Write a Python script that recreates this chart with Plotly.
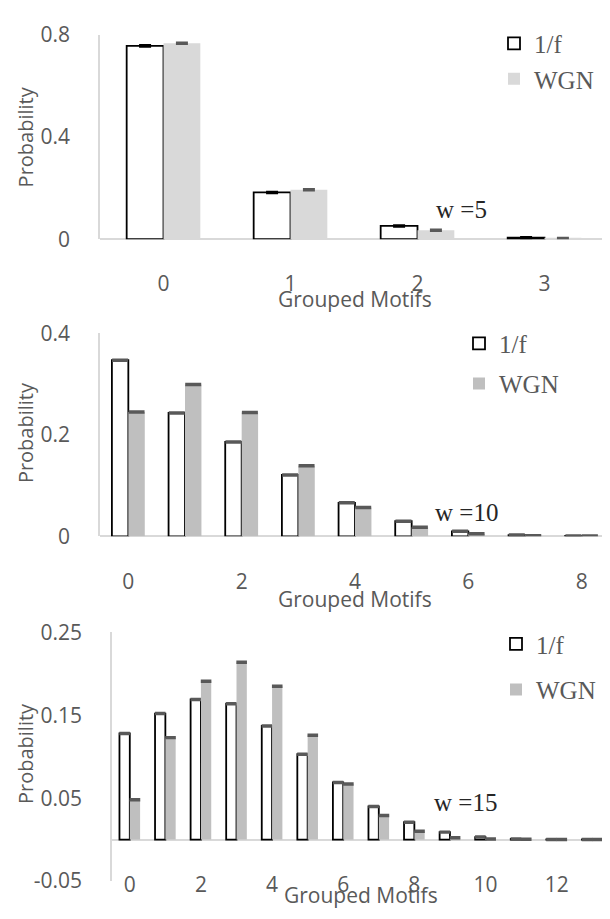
import plotly.graph_objects as go

W, H = 610, 919
OFF = 8  # the page body margin shifts the figure by 8 px

# ---------------- data ----------------
motifs_w5 = [0, 1, 2, 3]
pink_w5 = [0.756, 0.183, 0.052, 0.006]
wgn_w5 = [0.766, 0.193, 0.035, 0.003]
pink_w5_err = [0.002, 0.002, 0.002, 0.002]
wgn_w5_err = [0.002, 0.002, 0.002, 0.002]

motifs_w10 = [0, 1, 2, 3, 4, 5, 6, 7, 8]
pink_w10 = [0.347, 0.243, 0.186, 0.121, 0.066, 0.030, 0.010, 0.0025, 0.0008]
wgn_w10 = [0.245, 0.299, 0.244, 0.139, 0.057, 0.018, 0.005, 0.0013, 0.0005]
pink_w10_err = [0.001, 0.001, 0.001, 0.001, 0.001, 0.001, 0.001, 0.001, 0.001]
wgn_w10_err = [0.001, 0.001, 0.001, 0.001, 0.001, 0.001, 0.001, 0.001, 0.001]

motifs_w15 = [0, 1, 2, 3, 4, 5, 6, 7, 8, 9, 10, 11, 12, 13]
pink_w15 = [0.128, 0.152, 0.169, 0.164, 0.137, 0.103, 0.069, 0.040, 0.021,
            0.009, 0.003, 0.0008, 0.0002, 0.0001]
wgn_w15 = [0.048, 0.123, 0.191, 0.214, 0.185, 0.126, 0.067, 0.029, 0.010,
           0.0023, 0.0008, 0.0003, 0.0001, 0.0001]
pink_w15_err = [0.0006, 0.0006, 0.0006, 0.0006, 0.0006, 0.0006, 0.0006,
                0.0006, 0.0006, 0.0006, 0.0006, 0.0006, 0.0006, 0.0006]
wgn_w15_err = [0.0006, 0.0006, 0.0006, 0.0006, 0.0006, 0.0006, 0.0006,
               0.0006, 0.0006, 0.0006, 0.0006, 0.0006, 0.0006, 0.0006]

yticks_w5 = [0, 0.4, 0.8]
yticklabels_w5 = ["0", "0.4", "0.8"]
yticks_w10 = [0, 0.2, 0.4]
yticklabels_w10 = ["0", "0.2", "0.4"]
yticks_w15 = [-0.05, 0.05, 0.15, 0.25]
yticklabels_w15 = ["-0.05", "0.05", "0.15", "0.25"]

series_names = ["1/f", "WGN"]
window_labels = ["w =5", "w =10", "w =15"]
x_title = "Grouped Motifs"
y_title = "Probability"

# ---------------- style ----------------
AX_COLOR = "#595959"
LINE_COLOR = "#d9d9d9"
SANS = "Open Sans"
SERIF = "Liberation Serif"


def px(x):
    return (x - OFF) / W


def py(y):
    return 1 - (y - OFF) / H


panels = [
    dict(cats=motifs_w5, pink=pink_w5, wgn=wgn_w5, perr=pink_w5_err, werr=wgn_w5_err,
         wgn_color="#d9d9d9", pink_cap="#000000", wgn_cap="#595959",
         cap_w=6, xd=(100, 608), yd=(20, 231), yr=[0, 0.8],
         yt=yticks_w5, ytl=yticklabels_w5,
         xt=[0, 1, 2, 3], xlab_y=272.5, xtitle=(355, 293), ytitle=(25, 126),
         leg=(494, 5.5), leg_gap=0, note=(461, 200)),
    dict(cats=motifs_w10, pink=pink_w10, wgn=wgn_w10, perr=pink_w10_err, werr=wgn_w10_err,
         wgn_color="#bfbfbf", pink_cap="#595959", wgn_cap="#595959",
         cap_w=8, xd=(100, 610), yd=(328, 537.5), yr=[0, 0.4],
         yt=yticks_w10, ytl=yticklabels_w10,
         xt=[0, 2, 4, 6, 8], xlab_y=580.5, xtitle=(355, 602), ytitle=(25, 431),
         leg=(459, 315), leg_gap=4.5, note=(466, 513)),
    dict(cats=motifs_w15, pink=pink_w15, wgn=wgn_w15, perr=pink_w15_err, werr=wgn_w15_err,
         wgn_color="#bfbfbf", pink_cap="#595959", wgn_cap="#595959",
         cap_w=5.3, xd=(112, 610), yd=(636.5, 893), yr=[-0.05, 0.25],
         yt=yticks_w15, ytl=yticklabels_w15,
         xt=[0, 2, 4, 6, 8, 10, 12], xlab_y=893, xtitle=(361, 907), ytitle=(25, 762),
         leg=(496, 625), leg_gap=10, note=(465, 812)),
]

fig = go.Figure()
layout = dict(
    width=W, height=H,
    margin=dict(l=0, r=0, t=0, b=0),
    paper_bgcolor="white", plot_bgcolor="white",
    barmode="group", bargap=0.42, bargroupgap=0,
    showlegend=True,
)
annotations = []

for i, p in enumerate(panels):
    k = "" if i == 0 else str(i + 1)
    xa, ya = "x" + k, "y" + k
    lg = "legend" + k
    fig.add_trace(go.Bar(
        x=p["cats"], y=p["pink"], name=series_names[0], xaxis=xa, yaxis=ya,
        legend=lg, legendgroup="pink" + k,
        marker=dict(color="white", line=dict(color="black", width=1.8)),
        error_y=dict(type="data", array=p["perr"], color=p["pink_cap"],
                     thickness=2.5, width=p["cap_w"]),
    ))
    fig.add_trace(go.Bar(
        x=p["cats"], y=p["wgn"], name=series_names[1], xaxis=xa, yaxis=ya,
        legend=lg, legendgroup="wgn" + k,
        marker=dict(color=p["wgn_color"], line=dict(width=0)),
        error_y=dict(type="data", array=p["werr"], color=p["wgn_cap"],
                     thickness=2.5, width=p["cap_w"]),
    ))
    n = len(p["cats"])
    layout["xaxis" + k] = dict(
        domain=[px(p["xd"][0]), min(1.0, px(p["xd"][1]))],
        range=[-0.5, n - 0.5], anchor="free", position=py(p["xlab_y"] - 11),
        tickmode="array", tickvals=p["xt"], ticks="",
        showline=False, showgrid=False, zeroline=False,
        tickfont=dict(family=SANS, size=21, color=AX_COLOR),
    )
    layout["yaxis" + k] = dict(
        domain=[py(p["yd"][1]), py(p["yd"][0])],
        range=p["yr"], anchor=xa,
        tickmode="array", tickvals=p["yt"], ticktext=p["ytl"], ticks="",
        ticklabelstandoff=24,
        showline=True, linecolor=LINE_COLOR, linewidth=1.5,
        showgrid=False, zeroline=True, zerolinecolor=LINE_COLOR, zerolinewidth=1.5,
        tickfont=dict(family=SANS, size=21, color=AX_COLOR),
    )
    layout[lg] = dict(
        x=px(p["leg"][0]), y=py(p["leg"][1]), xanchor="left", yanchor="top",
        bgcolor="rgba(0,0,0,0)", borderwidth=0,
        font=dict(family=SERIF, size=25, color=AX_COLOR),
        tracegroupgap=p["leg_gap"], itemwidth=30,
    )
    annotations.append(dict(
        text=x_title, x=px(p["xtitle"][0]), y=py(p["xtitle"][1]),
        xref="paper", yref="paper", showarrow=False,
        xanchor="center", yanchor="middle",
        font=dict(family=SANS, size=21, color=AX_COLOR),
    ))
    annotations.append(dict(
        text=y_title, x=px(p["ytitle"][0]), y=py(p["ytitle"][1]),
        xref="paper", yref="paper", showarrow=False, textangle=-90,
        xanchor="center", yanchor="middle",
        font=dict(family=SANS, size=20, color=AX_COLOR),
    ))
    annotations.append(dict(
        text=window_labels[i], x=px(p["note"][0]), y=py(p["note"][1]),
        xref="paper", yref="paper", showarrow=False,
        xanchor="center", yanchor="middle",
        font=dict(family=SERIF, size=25, color="#262626"),
    ))

layout["annotations"] = annotations
fig.update_layout(**layout)
fig.write_html("out.html")
